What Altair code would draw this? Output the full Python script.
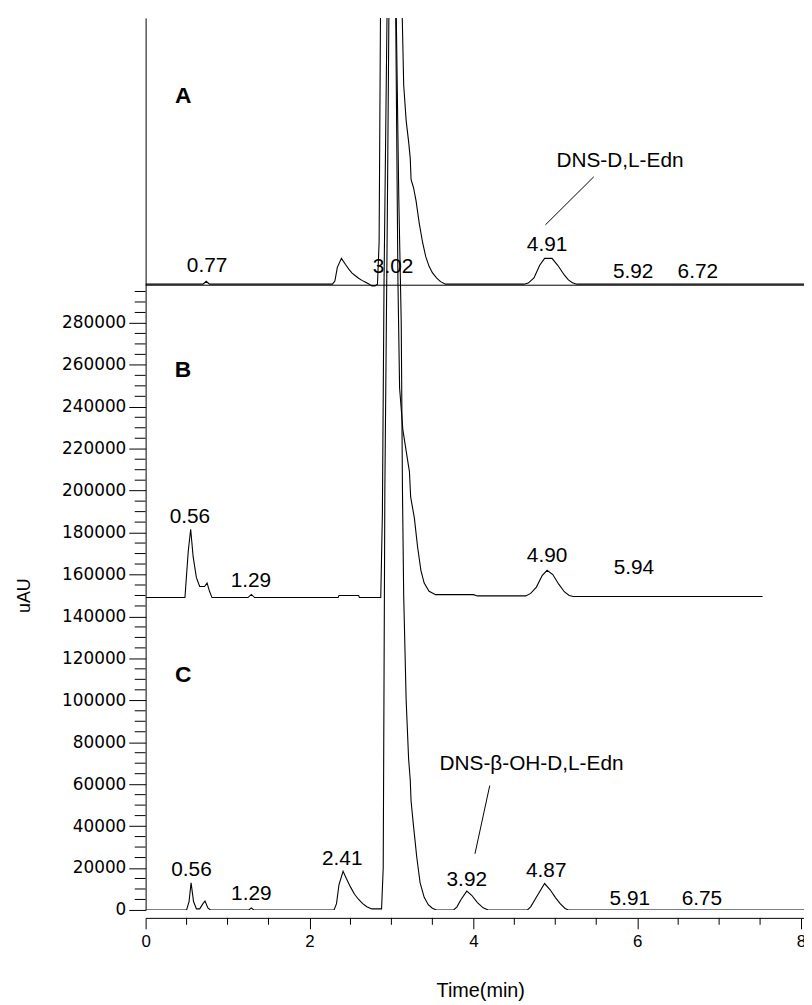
import altair as alt
import pandas as pd

# ---------------- trace data (time in min, intensity in uAU relative to baseline) ----------
A_t = [0.00, 0.70, 0.74, 0.78, 2.28, 2.31, 2.34, 2.39, 2.44, 2.48, 2.52, 2.56, 2.60, 2.64,
       2.68, 2.73, 2.76, 2.80, 2.83, 2.85, 2.87, 2.90, 2.95, 3.00, 3.05, 3.09, 3.12, 3.15,
       3.18, 3.21, 3.23, 3.24, 3.27, 3.30, 3.34, 3.38, 3.42, 3.46, 3.50, 3.55, 3.60, 3.66,
       4.62, 4.67, 4.74, 4.81, 4.87, 4.96, 5.03, 5.11, 5.16, 5.21, 5.26, 8.04]
A_v = [0, 0, 1400, 0, 0, 1500, 8000, 12300, 9400, 7200, 5300, 4000, 2800, 1800,
       1000, 0, -800, -800, 0, 20000, 150000, 350000, 500000, 550000, 400000, 250000, 150000, 95000,
       78000, 68000, 60000, 50000, 46000, 40000, 29000, 20000, 13000, 8500, 5500, 3000, 1200, 0,
       0, 500, 3000, 9000, 12300, 12300, 9000, 4400, 2000, 700, 0, 0]

B_t = [0.00, 0.48, 0.52, 0.55, 0.58, 0.62, 0.66, 0.72, 0.75, 0.78, 0.81, 1.25, 1.29, 1.33,
       2.35, 2.36, 2.60, 2.61, 2.87, 2.89, 2.91, 2.95, 3.00, 3.05, 3.08, 3.10, 3.14, 3.18,
       3.22, 3.235, 3.28, 3.32, 3.36, 3.40, 3.46, 3.54, 4.00, 4.05, 4.64, 4.70, 4.77, 4.84,
       4.90, 4.97, 5.04, 5.11, 5.17, 5.22, 7.53]
B_v = [0, 0, 22000, 32600, 19500, 9500, 5300, 5300, 7000, 3000, 0, 0, 1500, 0,
       0, 1000, 1000, 0, 0, 40000, 150000, 290000, 400000, 290000, 150000, 100000, 80000, 70000,
       60000, 48000, 38000, 24000, 13000, 6900, 3000, 1400, 1400, 800, 800, 2000, 5000, 10500,
       13000, 11000, 6500, 2800, 1000, 500, 500]

C_t = [0.00, 0.50, 0.53, 0.555, 0.585, 0.62, 0.66, 0.70, 0.725, 0.76, 0.79, 1.26, 1.29, 1.32,
       2.30, 2.33, 2.36, 2.41, 2.45, 2.50, 2.55, 2.60, 2.65, 2.70, 2.76, 2.88, 2.90, 2.92,
       2.95, 2.97, 3.00, 3.03, 3.06, 3.09, 3.12, 3.135, 3.15, 3.18, 3.21, 3.23, 3.24, 3.27,
       3.31, 3.35, 3.40, 3.45, 3.50, 3.55, 3.76, 3.80, 3.85, 3.92, 3.98, 4.05, 4.12, 4.18,
       4.66, 4.70, 4.76, 4.87, 4.94, 5.00, 5.06, 5.12, 5.16, 8.04]
C_v = [0, 0, 4000, 12900, 4000, 500, 500, 3000, 4200, 1000, 0, 0, 1000, 0,
       0, 3000, 12000, 18400, 15000, 11000, 7500, 5000, 3000, 1500, 500, 500, 20000, 200000,
       330000, 430000, 600000, 500000, 425000, 340000, 280000, 200000, 150000, 100000, 72000, 62000, 52000, 40000,
       25000, 13000, 6000, 2500, 800, 0, 0, 1500, 5000, 9000, 7000, 3500, 1000, 0,
       0, 1500, 5500, 12600, 9500, 6000, 3000, 700, 0, 0]

trace_names = ["A", "B", "C"]
trace_offsets = [298500, 149000, 0]

# ---------------- annotations ----------------
label_text = ["0.77", "3.02", "4.91", "5.92", "6.72", "DNS-D,L-Edn",
              "0.56", "1.29", "4.90", "5.94",
              "0.56", "1.29", "2.41", "3.92", "4.87", "5.91", "6.75", "DNS-β-OH-D,L-Edn"]
label_t = [0.75, 3.02, 4.90, 5.95, 6.74, 5.79,
           0.54, 1.285, 4.90, 5.96,
           0.56, 1.29, 2.40, 3.92, 4.89, 5.91, 6.79, 4.71]
label_v = [307300, 306600, 317000, 304500, 304500, 357100,
           187200, 157100, 169000, 163300,
           19100, 7500, 24200, 14300, 18400, 5400, 5400, 69400]

panel_text = ["A", "B", "C"]
panel_t = [0.46, 0.455, 0.46]
panel_v = [388200, 257400, 111900]

leader_t = [5.47, 4.20]
leader_t2 = [4.88, 4.02]
leader_v = [349700, 59300]
leader_v2 = [326800, 26800]

y_tick_values = list(range(0, 280001, 20000))
y_minor_values = [v for v in range(5000, 295001, 5000) if v % 20000 != 0]
x_tick_values = [0, 2, 4, 6, 8]
x_minor_values = [0.5, 1, 1.5, 2.5, 3, 3.5, 4.5, 5, 5.5, 6.5, 7, 7.5]
ref_line_v = [298000]

# ---------------- build tables ----------------
rows = []
for name, off, ts, vs in zip(trace_names, trace_offsets, [A_t, B_t, C_t], [A_v, B_v, C_v]):
    for i, (t, v) in enumerate(zip(ts, vs)):
        rows.append({"trace": name, "t": t, "v": v + off, "order": i})
df = pd.DataFrame(rows)

df_labels = pd.DataFrame({"t": label_t, "v": label_v, "text": label_text})
df_panels = pd.DataFrame({"t": panel_t, "v": panel_v, "text": panel_text})
df_leaders = pd.DataFrame({"t": leader_t, "t2": leader_t2, "v": leader_v, "v2": leader_v2})
df_ymin = pd.DataFrame({"v": y_minor_values})
df_xmin = pd.DataFrame({"t": x_minor_values})
df_ref = pd.DataFrame({"v": ref_line_v})

W, H = 665, 901
xs = alt.Scale(domain=[0, 8.036], nice=False, zero=False)
ys = alt.Scale(domain=[0, 425500], nice=False)

x_axis = alt.Axis(values=x_tick_values, tickSize=11, offset=8, grid=False,
                  domainColor="black", tickColor="black", labelColor="black",
                  labelFont="Liberation Sans", labelFontSize=17, labelPadding=5,
                  labelFlush=False, title="Time(min)", titleFont="Liberation Sans",
                  titleFontSize=20, titleFontWeight="normal", titleColor="black",
                  titleX=338, titleY=79, titleAlign="center", titleBaseline="alphabetic")
y_axis = alt.Axis(values=y_tick_values, format="d", tickSize=17, grid=False,
                  domainColor="black", tickColor="black", labelColor="black",
                  labelFont="DejaVu Sans", labelFontSize=17, labelPadding=3,
                  labelOverlap=False, title="uAU", titleFont="Liberation Sans",
                  titleFontSize=18, titleFontWeight="normal", titleColor="black",
                  titleX=-122, titleY=583, titleAngle=270, titleAlign="center",
                  titleBaseline="middle")

X = lambda f="t:Q": alt.X(f, scale=xs, axis=x_axis)
Y = lambda f="v:Q": alt.Y(f, scale=ys, axis=y_axis)

lines = alt.Chart(df).mark_line(color="black", strokeWidth=1.1, clip=True).encode(
    x=X(), y=Y(), detail="trace:N", order="order:Q")

ref = alt.Chart(df_ref).mark_rule(color="black", strokeWidth=1).encode(
    y=Y(), x=alt.value(0), x2=alt.value(W))

ymin = alt.Chart(df_ymin).mark_rule(color="black", strokeWidth=1).encode(
    y=Y(), x=alt.value(-11), x2=alt.value(0))

xmin = alt.Chart(df_xmin).mark_rule(color="black", strokeWidth=1).encode(
    x=X(), y=alt.value(H + 8), y2=alt.value(H + 15))

labels = alt.Chart(df_labels).mark_text(font="Liberation Sans", fontSize=21, color="black",
                                        align="center", baseline="middle").encode(
    x=X(), y=Y(), text="text:N")

panels = alt.Chart(df_panels).mark_text(font="Liberation Sans", fontSize=23, fontWeight="bold",
                                        color="black", align="center", baseline="middle").encode(
    x=X(), y=Y(), text="text:N")

leaders = alt.Chart(df_leaders).mark_rule(color="black", strokeWidth=1).encode(
    x=X(), x2="t2:Q", y=Y(), y2="v2:Q")

chart = alt.layer(lines, ref, ymin, xmin, labels, panels, leaders).properties(
    width=W, height=H,
    autosize=alt.AutoSizeParams(type="none"),
    padding={"left": 139, "top": 5, "right": 0, "bottom": 91},
    background="white",
).configure_view(stroke=None)

chart.save("out.html", embed_options={"renderer": "svg", "actions": False})
